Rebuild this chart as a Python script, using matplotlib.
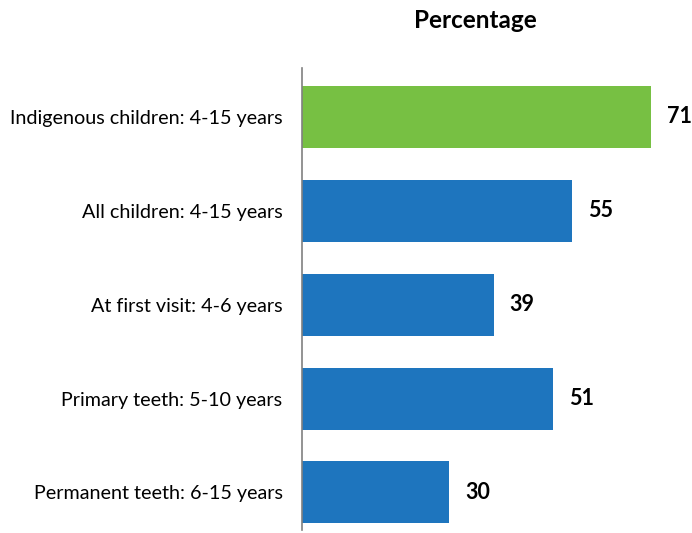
import matplotlib
matplotlib.use("Agg")
import matplotlib.pyplot as plt

# data
categories = [
    "Indigenous children: 4-15 years",
    "All children: 4-15 years",
    "At first visit: 4-6 years",
    "Primary teeth: 5-10 years",
    "Permanent teeth: 6-15 years",
]
values = [71, 55, 39, 51, 30]
colors = ["#77C043", "#1E75BE", "#1E75BE", "#1E75BE", "#1E75BE"]

plt.rcParams["font.family"] = ["Lato", "DejaVu Sans"]

fig = plt.figure(figsize=(6.92, 5.33), dpi=100)
ax = fig.add_axes([302 / 692, 3 / 533, 390 / 692, 462 / 533])

pos = list(range(len(categories)))
ax.barh(pos, values, height=0.66, color=colors)

for p, v in zip(pos, values):
    ax.annotate(str(v), (v, p), xytext=(11.5, 0), textcoords="offset points",
                ha="left", va="center", fontsize=15.5, fontweight="bold", color="black")

ax.set_yticks(pos)
ax.set_yticklabels(categories, fontsize=14.2)
ax.tick_params(axis="y", length=0, pad=14)
ax.set_xticks([])
ax.set_xlim(0, 79.35)
ax.set_ylim(4.4, -0.52)

for s in ["top", "right", "bottom"]:
    ax.spines[s].set_visible(False)
ax.spines["left"].set_color("#808080")
ax.spines["left"].set_linewidth(1.2)

fig.text(475 / 692, 1 - 20 / 533, "Percentage", ha="center", va="center",
         fontsize=17.5, fontweight="bold")

fig.savefig("out.png", dpi=100)
